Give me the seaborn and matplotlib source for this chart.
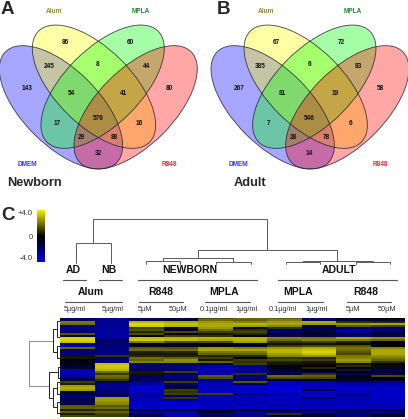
import numpy as np
import pandas as pd
import seaborn as sns
import matplotlib.pyplot as plt
from matplotlib.colors import LinearSegmentedColormap
from matplotlib.patches import Ellipse

sns.set_style("white")
plt.rcParams['font.family'] = ['Liberation Sans', 'DejaVu Sans']

# venn region counts
newborn_counts = [143, 86, 60, 80, 245, 8, 44, 54, 41, 17, 16, 576, 29, 88, 32]
adult_counts = [267, 67, 72, 58, 385, 6, 83, 81, 19, 7, 6, 546, 28, 78, 14]
set_names = ["DMEM", "Alum", "MPLA", "R848"]

# heatmap columns, top row first
alum_ad = [-2, -1.5, 2, 1.8, -2.2, -2.2, -2.2, -2, 1.4, -1.5, 3.5, 3.6, 3.2, -3, -3, 1.6, -2, -2.2, -2, 0.3,
           0.4, -0.2, -0.6, -0.5, -0.8, -1, -3, -3.2, -3.2, -2.8, -1.5, -1.2, 1, 0.5, 2.6, 2.9, 2.6, -1.5, -0.8, -2,
           -1.6, -1.5, -1.6, -1.2, 1.5, 1.6, 0.5, 1.5, 0.4, 1.2]
alum_nb = [-2.6, -2.6, -2.6, -2.6, -2.6, -2.7, -2.8, -2.8, -2.9, -2.9, -2.6, -1.5, -2.2, -2.2, -2.2, -2.2, -2.2, -2.2, -2.2, 0.8,
           -2, -2, -2, 3.2, 3.4, 3.3, 3, 1.8, 0.9, 1.8, 1.5, 0.8, -1.5, -2.4, -2.6, -2.4, -2.4, -2.2, -1.5, -2.2,
           2.6, 2.6, 2.4, 2.2, 1.5, 1.8, 0.9, 1.6, 1.1, 1]
r848_nb_5 = [-1.5, -1.2, 3, 3.6, 3.4, 1, 1.4, 0.6, 1.3, -0.3, 3.2, 3.4, 2, -0.8, -0.8, 1.5, 1.8, 0.5, 0.4, 0.6,
             1.8, 1.6, 2.2, -2, -2.2, -2, -1.5, 0.4, 0.3, -1.5, -1.8, -1.5, -2.5, -2.8, -3.5, -3.6, -3.6, -3.4, -2.8, -3,
             -3.2, -3, -3.5, -3.6, -3.6, -3.5, -1, -3, -1.5, -1.5]
r848_nb_50 = [-1.3, -1, 2.8, 3.2, 3, -1.2, -0.9, 1.2, -0.3, 1, 3, 3.1, 1.2, -1, -0.6, 1.4, 1.8, 0.6, 0.4, 0.5,
              1.6, 2.4, 2.2, -2, -2.2, -2.2, -1.8, 1, -1.5, -2.5, -1.6, -1.5, 1, -2, -1, -1, 1, 0.8, 1, -2,
              0.8, -2.5, -3.5, -3.6, -3.6, -3.5, -1, -3, -3, -3]
mpla_nb_01 = [1.2, 1.8, 2.5, 2.8, 2.8, 2.5, 1.8, 1, 0.4, 0.8, 3, 2.8, 1.2, -0.5, -0.5, 2.5, 2.8, 2, 1.6, 0.6,
              1, 0.4, 1.6, -1.5, -3, -3.2, -3.2, -3, -3, 1.5, 1.2, -2.5, -3, -3.3, -3.4, -3.4, -3.3, -3.3, 1, -3.3,
              -3.4, -3.4, -3.4, -3.4, -3.4, -3.4, -1, -0.8, -2.2, -1]
mpla_nb_1 = [1.8, 1.6, 2.2, 3, 2.6, -0.8, 0.8, 1.2, 0.6, -0.3, 3, 3, 2.6, -0.7, -0.7, 2.2, 2.8, 2, 1.6, 0.6,
             -0.5, 1, 0.8, 1, -2.5, -2.5, -2.5, -2.5, 0.8, -2.2, -2.2, -1.5, 1.4, -1.5, -3.5, -3.5, -3.5, -3.5, -2.2, -3.3,
             -3.3, -3.3, -3.3, -3.3, -3.3, -3.3, -0.6, -2.5, -2.5, -2.5]
mpla_ad_01 = [1.5, 2, 2.6, 2.8, 2.2, 0.8, -2, -2, -1, -1.5, 2.2, 1.8, 0.8, 0.3, 1, 2.5, 3, 3, 2.6, 2.2,
              0.8, 1.2, 0.5, 0.3, -0.5, -0.5, -1, -1.5, -1, 1.8, 1.2, -0.5, -3.5, -3.5, -3.6, -3.8, -3.8, -3.8, -3, -3.3,
              -3.3, -3.3, -3.3, -3.3, -3.3, -3.3, -1, -2.5, 0.8, -1]
mpla_ad_1 = [-1.8, -1.5, 2.8, 2.5, -0.5, -1.5, -1.5, -0.8, -1, -1.2, 2, 2.2, 1, 0.3, 1.2, 2.8, 3.3, 3.5, 3.2, 2.4,
             0.6, 1, 0.4, 0.2, -0.3, 0.6, -0.5, -1, 0.8, 1.6, 1.2, -0.5, -3.3, -3.3, -3.5, -3, -1, -3.5, -3.5, -3.5,
             -1.5, -3.3, -3.3, -3.3, -3.3, -3.3, -1.5, -2.5, -1, -1]
r848_ad_5 = [-0.3, -1, 0.8, 2.5, 1.5, -2, -3, -2.5, -1.5, -2, 2.8, 2, 0.5, 0.2, 1.4, 2, 1.8, 1.4, 1.2, 2,
             2.2, 2.6, 2.2, 0.3, 0.7, -0.5, 0.4, -0.8, -1.5, -0.2, -0.4, -1, -2, -3, -3.5, -3.5, -3.5, -3.5, -2.5, -3,
             -3, -3.3, -3.3, -3.3, -3.3, -3.3, -1.5, -2, -2, -2]
r848_ad_50 = [0, -1, 0.6, 2.8, 1, -2, -2.2, -1.5, -1, -1.5, 2.4, 1.6, 0, -0.1, -0.2, 2.2, 2.8, 2.8, 2.8, 2.4,
              2, 1.6, 0.8, -0.4, 0.2, -1, -1.5, -0.8, -1.5, 1.2, 0, -0.8, -2.5, -3, -3.5, -3.5, -3.5, -3.5, -3.5, -3.5,
              -3.5, -3.5, -3.3, -3.3, -3.3, -3.3, -1.2, -2.5, -1.2, -1]
dose_labels = ["5µg/ml", "5µg/ml", "5µM", "50µM", "0.1µg/ml", "1µg/ml", "0.1µg/ml", "1µg/ml", "5µM", "50µM"]

heat_df = pd.DataFrame({'alum_ad': alum_ad, 'alum_nb': alum_nb, 'r848_nb_5': r848_nb_5, 'r848_nb_50': r848_nb_50,
                        'mpla_nb_01': mpla_nb_01, 'mpla_nb_1': mpla_nb_1, 'mpla_ad_01': mpla_ad_01,
                        'mpla_ad_1': mpla_ad_1, 'r848_ad_5': r848_ad_5, 'r848_ad_50': r848_ad_50})

W, H = 408, 419
fig = plt.figure(figsize=(W / 100, H / 100), dpi=100)


def px_axes(x0, y0, x1, y1):
    return fig.add_axes([x0 / W, 1 - y1 / H, (x1 - x0) / W, (y1 - y0) / H])


# page axes in pixel units for the venns, labels and trees
ax = fig.add_axes([0, 0, 1, 1])
ax.set_xlim(0, W)
ax.set_ylim(H, 0)
ax.axis('off')

ell_centers = [(61, 107.3), (94, 86.7), (102.6, 86.7), (135.6, 107.3)]
ell_angles = [45, 45, -45, -45]
ell_colors = ['#0000ff', '#ffff00', '#00ff00', '#ff0000']
label_colors = ['#3a3af0', '#8c8c35', '#1f8f2a', '#e8303a']
label_pos = [(27, 164), (54, 11.5), (141, 11.5), (169, 164)]
count_pos = [(27, 88), (65, 42), (130, 42), (169, 88), (49, 66), (98, 64.5), (147, 66), (71, 93.5), (124, 93.5),
             (57, 123.5), (139, 123.5), (98, 118), (81.5, 137.5), (114.5, 137.5), (98, 153.5)]


def venn(dx, counts):
    for (cx, cy), ang, col in zip(ell_centers, ell_angles, ell_colors):
        ax.add_patch(Ellipse((cx + dx, cy), 157, 76, angle=ang, fc=col, ec='none', alpha=0.35))
    for (cx, cy), ang in zip(ell_centers, ell_angles):
        ax.add_patch(Ellipse((cx + dx, cy), 157, 76, angle=ang, fc='none', ec='#202030', lw=0.6, alpha=0.85))
    for (x, y), c in zip(count_pos, counts):
        ax.text(x + dx, y, str(c), fontsize=4.7, fontweight='bold', ha='center', va='center', color='#111111')
    for (x, y), name, col in zip(label_pos, set_names, label_colors):
        ax.text(x + dx, y, name, fontsize=4.7, fontweight='bold', ha='center', va='center', color=col)


venn(0, newborn_counts)
venn(8 + 204 - 0.3, adult_counts)

ax.text(0.5, 9, "A", fontsize=13.5, fontweight='bold', va='center')
ax.text(216.5, 9, "B", fontsize=13.5, fontweight='bold', va='center')
ax.text(1.5, 215, "C", fontsize=13.5, fontweight='bold', va='center')
ax.text(7.5, 183, "Newborn", fontsize=9.2, fontweight='bold', va='center')
ax.text(234, 183, "Adult", fontsize=9.2, fontweight='bold', va='center')

# top tree
top_tree = [[(76, 263), (76, 243), (111, 243), (111, 263)],
            [(93, 243), (93, 219), (267, 219), (267, 250)],
            [(198, 257), (198, 250), (337, 250), (337, 260.5)],
            [(146, 264), (146, 260.5), (180, 260.5), (180, 264)],
            [(163, 260.5), (163, 257.5), (233, 257.5), (233, 261.5)],
            [(216, 264), (216, 261.5), (251, 261.5), (251, 264)],
            [(302.5, 262), (302.5, 260.5), (372.5, 260.5), (372.5, 262)],
            [(286, 264), (286, 261.5), (320, 261.5), (320, 264)],
            [(356, 264), (356, 261.5), (390, 261.5), (390, 264)]]
for seg in top_tree:
    xs, ys = zip(*seg)
    ax.plot(xs, ys, color='#5a5a5a', lw=0.7, solid_joinstyle='miter')

# left tree
left_tree = [[(53, 341), (29, 341), (29, 386), (49, 386)],
             [(56.5, 329), (53, 329), (53, 352), (57, 352)],
             [(60, 321), (56.5, 321), (56.5, 337), (60, 337)],
             [(60, 346), (57, 346), (57, 358), (60, 358)],
             [(58, 372), (49, 372), (49, 398), (53, 398)],
             [(60, 367), (58, 367), (58, 378), (60, 378)],
             [(57, 388), (53, 388), (53, 407), (57, 407)],
             [(60, 382), (57, 382), (57, 394), (60, 394)],
             [(60, 402), (57, 402), (57, 413), (60, 413)]]
for seg, col in zip(left_tree, ['#8a8a8a'] + ['#222222'] * 8):
    xs, ys = zip(*seg)
    ax.plot(xs, ys, color=col, lw=0.7, solid_joinstyle='miter')

# group labels and their rules
big_labels = [("AD", 73, 270), ("NB", 109, 270), ("NEWBORN", 190, 270), ("ADULT", 339, 270),
              ("Alum", 91, 292), ("R848", 161, 292), ("MPLA", 224, 292), ("MPLA", 298, 292), ("R848", 366, 292)]
for txt, x, y in big_labels:
    ax.text(x, y, txt, fontsize=7.5, fontweight='bold', ha='center', va='center', color='#111111')
rules = [(63, 86, 280), (99, 122, 280), (138, 257, 280), (278, 397, 280),
         (65, 122, 301.5), (139, 183, 301.5), (205, 250, 301.5), (278, 323, 301.5), (347, 391, 301.5)]
for x0, x1, y in rules:
    ax.plot([x0, x1], [y, y], color='#555555', lw=0.8)
dose_x = [75, 113, 145, 178, 214, 246, 283, 316, 353, 387]
for x, txt in zip(dose_x, dose_labels):
    ax.text(x, 309.5, txt, fontsize=5.3, ha='center', va='center', color='#333333')

# heatmap and its colour key
cmap = LinearSegmentedColormap.from_list('by', [(0, '#0000e0'), (0.5, '#000000'), (1, '#f4f000')])
hax = px_axes(60, 317.5, 405, 417)
cax = px_axes(37, 210, 45, 262)
sns.heatmap(heat_df, ax=hax, cbar_ax=cax, cmap=cmap, vmin=-4, vmax=4, xticklabels=False, yticklabels=False,
            cbar_kws={'ticks': [-4, 0, 4]})
cbar = hax.collections[0].colorbar
cbar.outline.set_visible(False)
cax.yaxis.set_ticks_position('left')
cax.tick_params(length=0, pad=3, labelsize=5.5, labelcolor='#333333')
cax.set_yticklabels(["-4.0", "0", "+4.0"])
tick_txt = cax.get_yticklabels()
tick_txt[0].set_va('bottom')
tick_txt[2].set_va('top')

fig.savefig("out.png", dpi=100)
